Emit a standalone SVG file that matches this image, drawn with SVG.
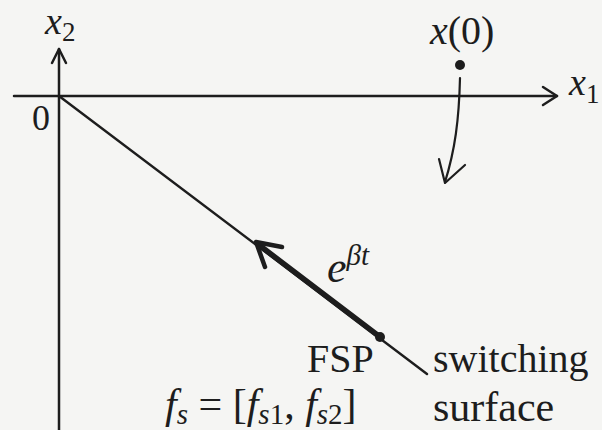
<svg xmlns="http://www.w3.org/2000/svg" width="602" height="430" viewBox="0 0 602 430">
  <style>
    .ln { stroke: #1d1d1d; fill: none; stroke-linecap: round; stroke-linejoin: round; }
    .t { font-family: "Liberation Serif", "Times New Roman", serif; fill: #1d1d1d; }
    .m { font-family: "Liberation Serif", "Times New Roman", serif; font-style: italic; fill: #1d1d1d; }
  </style>
  <rect x="0" y="0" width="602" height="430" fill="#f5f5f3"/>

  <g id="connectors">
    <!-- x1 axis -->
    <line class="ln" x1="14" y1="96" x2="557" y2="96" stroke-width="2.5"/>
    <polyline class="ln" points="543,87 557,96 543,105" stroke-width="2.5"/>
    <!-- x2 axis -->
    <line class="ln" x1="59" y1="432" x2="59" y2="49" stroke-width="2.5"/>
    <polyline class="ln" points="52,63 59,49 66,63" stroke-width="2.5"/>
    <!-- switching surface -->
    <line class="ln" x1="59" y1="96" x2="427" y2="374" stroke-width="2.4"/>
    <!-- trajectory from x(0) -->
    <path class="ln" d="M460,78 C459,120 455,150 445,182" stroke-width="2.2"/>
    <polyline class="ln" points="439,159 445,183 465,165" stroke-width="2.2"/>
    <!-- e^{beta t} thick arrow -->
    <line class="ln" x1="380" y1="337" x2="259" y2="245" stroke-width="5.5"/>
    <polyline class="ln" points="282,247 256,242 265,267" stroke-width="4.5"/>
  </g>

  <g id="origin">
    <text class="t" x="32" y="130" font-size="36">0</text>
  </g>
  <g id="x2-label">
    <text class="m" x="45" y="34" font-size="38">x<tspan class="t" font-style="normal" font-size="27" dy="7">2</tspan></text>
  </g>
  <g id="x1-label">
    <text class="m" x="569" y="95" font-size="38">x<tspan class="t" font-style="normal" font-size="27" dy="8">1</tspan></text>
  </g>
  <g id="x0">
    <circle cx="460" cy="65" r="5" fill="#1d1d1d"/>
    <text class="m" x="430" y="44" font-size="40">x<tspan class="t" font-style="normal">(0)</tspan></text>
  </g>
  <g id="fsp">
    <circle cx="380" cy="337" r="5" fill="#1d1d1d"/>
    <text class="t" x="307" y="372" font-size="40">FSP</text>
  </g>
  <g id="ebt-label">
    <text class="m" x="327" y="282" font-size="44">e<tspan font-size="29" dy="-17">βt</tspan></text>
  </g>
  <g id="switching-surface">
    <text class="t" x="433" y="372" font-size="40">switching</text>
    <text class="t" x="433" y="421" font-size="42">surface</text>
  </g>
  <g id="fs-label">
    <text class="m" x="165" y="418" font-size="42">f<tspan font-size="29" dy="6">s</tspan><tspan class="t" font-style="normal" font-size="42" dy="-6"> = [</tspan>f<tspan font-size="29" dy="6">s</tspan><tspan class="t" font-style="normal" font-size="29">1</tspan><tspan class="t" font-style="normal" font-size="42" dy="-6">, </tspan>f<tspan font-size="29" dy="6">s</tspan><tspan class="t" font-style="normal" font-size="29">2</tspan><tspan class="t" font-style="normal" font-size="42" dy="-6">]</tspan></text>
  </g>
</svg>
